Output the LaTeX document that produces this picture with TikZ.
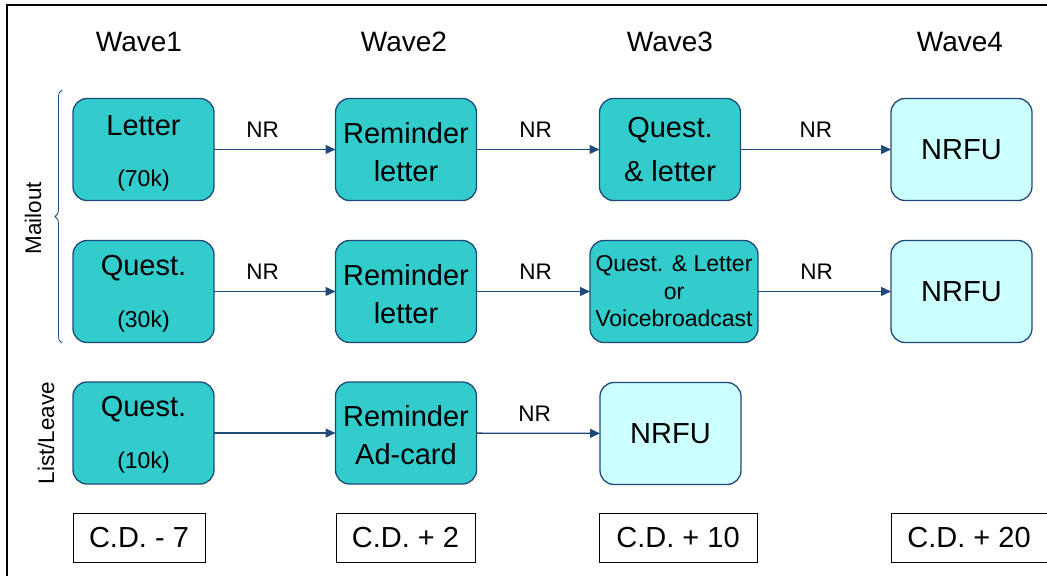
\documentclass[tikz,border=0pt]{standalone}
\usepackage{fontspec}
\setmainfont{Liberation Sans}
\usetikzlibrary{arrows.meta,decorations.pathreplacing}
\definecolor{teal}{HTML}{33CCCC}
\definecolor{pale}{HTML}{CCFFFF}
\definecolor{navy}{HTML}{1F4A78}
\newcommand{\fs}[2]{\fontsize{#1}{#2}\selectfont}
\tikzset{
  every node/.style={inner sep=0pt, outer sep=0pt},
  box/.style={draw=navy, line width=1.3pt, rounded corners=14pt,
    minimum width=141pt, minimum height=102pt, align=center},
  stagebox/.style={box, fill=teal},
  finalbox/.style={box, fill=pale, font=\fs{29}{34}},
  big/.style={font=\fs{29}{38}, align=center},
  small/.style={font=\fs{23}{27.5}, align=center},
  wave/.style={font=\fs{28}{32}},
  nr/.style={font=\fs{22.5}{26}, above=12pt},
  datebox/.style={draw=black, line width=1pt, minimum height=49pt, font=\fs{29}{34}},
  flow/.style={draw=navy, line width=1.3pt, -{Triangle[length=10pt,width=9pt]}},
}
\begin{document}
\begin{tikzpicture}[x=1pt,y=-1pt]
\useasboundingbox (0,0) rectangle (1047,576);
% outer frame
\draw[line width=1.2pt] (7,576) -- (7,5) -- (1047,5);

% wave headings
\node[wave] (w1) at (139,42) {Wave1};
\node[wave] (w2) at (404,42) {Wave2};
\node[wave] (w3) at (670,42) {Wave3};
\node[wave] (w4) at (960,42) {Wave4};

% row 1: letter mailout
\node[stagebox] (a1) at (143.5,149.5) {};
\node[big] (a1t) at (143.5,126) {Letter};
\node[small] (a1n) at (143.5,181) {(70k)};
\node[stagebox, font=\fs{29}{38}, text depth=0pt] (a2) at (406,149.5) {};
\node[big] (a2t) at (406,152.5) {Reminder\\letter};
\node[stagebox, font=\fs{29}{44}] (a3) at (670,149.5) {Quest.\\\& letter};
\node[finalbox] (a4) at (961.5,149.5) {NRFU};

% row 2: questionnaire mailout
\node[stagebox] (b1) at (143.5,291.5) {};
\node[big] (b1t) at (143.5,268) {Quest.};
\node[small] (b1n) at (143.5,322) {(30k)};
\node[stagebox] (b2) at (406,291.5) {};
\node[big] (b2t) at (406,294.5) {Reminder\\letter};
\node[stagebox, minimum width=168pt, font=\fs{23}{27.5}] (b3) at (674,291.5) {Quest. \& Letter\\or\\Voicebroadcast};
\node[finalbox] (b4) at (961.5,291.5) {NRFU};

% row 3: list/leave
\node[stagebox] (c1) at (143.5,433) {};
\node[big] (c1t) at (143.5,409) {Quest.};
\node[small] (c1n) at (143.5,463) {(10k)};
\node[stagebox] (c2) at (406,433) {};
\node[big] (c2t) at (406,435) {Reminder\\Ad-card};
\node[finalbox] (c3) at (670.5,433.5) {NRFU};

% connectors
\draw[flow] (a1) -- node[nr, pos=0.40] (nra1) {NR} (a2);
\draw[flow] (a2) -- node[nr, pos=0.48] (nra2) {NR} (a3);
\draw[flow] (a3) -- node[nr, pos=0.50] (nra3) {NR} (a4);
\draw[flow] (b1) -- node[nr, pos=0.40] (nrb1) {NR} (b2);
\draw[flow] (b2) -- node[nr, pos=0.52] (nrb2) {NR} (b3);
\draw[flow] (b3) -- node[nr, pos=0.44] (nrb3) {NR} (b4);
\draw[flow] (c1) -- (c2);
\draw[flow] (c2) -- node[nr, pos=0.47] (nrc2) {NR} (c3);

% group labels
\draw[navy, line width=0.8pt, decorate, decoration={brace, amplitude=7pt}]
  (62,343) -- (62,90);
\node[font=\fs{22.5}{26}, rotate=90] (mail) at (33,218) {Mailout};
\node[font=\fs{22.5}{26}, rotate=90] (ll) at (46,433) {List/Leave};

% census day offsets
\node[datebox, minimum width=132pt] (d1) at (139,537.5) {C.D. - 7};
\node[datebox, minimum width=139pt] (d2) at (405.5,537.5) {C.D. + 2};
\node[datebox, minimum width=158pt] (d3) at (678,537.5) {C.D. + 10};
\node[datebox, minimum width=156pt] (d4) at (969,537.5) {C.D. + 20};
\end{tikzpicture}
\end{document}
